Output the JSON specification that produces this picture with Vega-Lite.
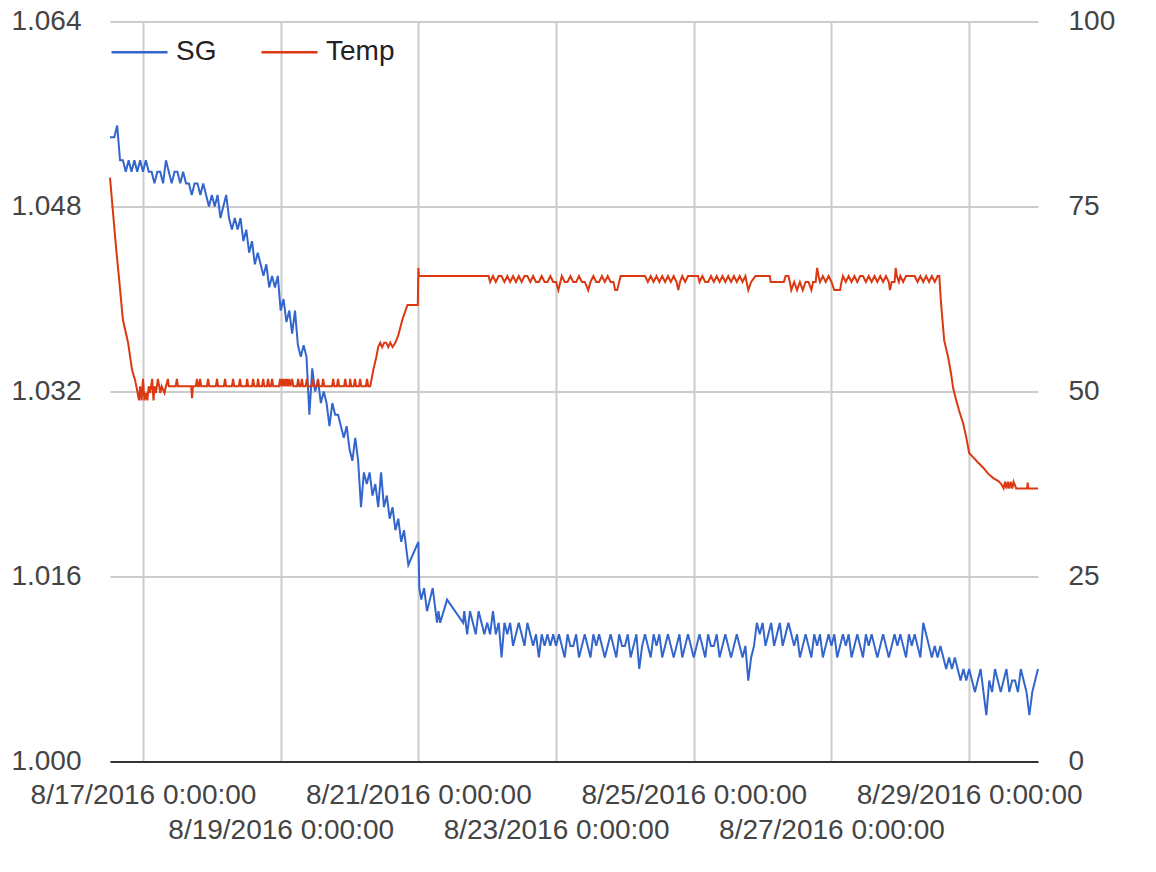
{
  "$schema": "https://vega.github.io/schema/vega-lite/v6.json",
  "width": 928,
  "height": 740,
  "autosize": {"type": "none"},
  "padding": {"left": 110, "top": 21.5, "right": 118, "bottom": 110.5},
  "background": "white",
  "config": {
    "view": {"stroke": null},
    "font": "Liberation Sans",
    "axis": {"labelFont": "Liberation Sans", "labelFontSize": 28, "labelColor": "#444", "ticks": false, "title": null, "labelLimit": 0},
    "legend": {"labelFont": "Liberation Sans", "labelLimit": 0}
  },
  "datasets": {
    "sg": [
      {"t":"2016-08-16T12:30","v":1.054},{"t":"2016-08-16T13:00","v":1.054},{"t":"2016-08-16T14:00","v":1.054},{"t":"2016-08-16T15:00","v":1.055},{"t":"2016-08-16T16:00","v":1.052},{"t":"2016-08-16T17:00","v":1.052},{"t":"2016-08-16T18:00","v":1.051},{"t":"2016-08-16T19:00","v":1.052},{"t":"2016-08-16T20:00","v":1.051},{"t":"2016-08-16T21:00","v":1.052},{"t":"2016-08-16T22:00","v":1.051},{"t":"2016-08-16T23:00","v":1.052},
      {"t":"2016-08-17T00:00","v":1.051},{"t":"2016-08-17T01:00","v":1.052},{"t":"2016-08-17T02:00","v":1.051},{"t":"2016-08-17T03:00","v":1.051},{"t":"2016-08-17T04:00","v":1.050},{"t":"2016-08-17T05:00","v":1.051},{"t":"2016-08-17T06:00","v":1.051},{"t":"2016-08-17T07:00","v":1.050},{"t":"2016-08-17T08:00","v":1.052},{"t":"2016-08-17T09:00","v":1.051},{"t":"2016-08-17T10:00","v":1.050},{"t":"2016-08-17T11:00","v":1.051},{"t":"2016-08-17T12:00","v":1.051},{"t":"2016-08-17T13:00","v":1.050},{"t":"2016-08-17T14:00","v":1.051},{"t":"2016-08-17T15:00","v":1.050},{"t":"2016-08-17T16:00","v":1.050},{"t":"2016-08-17T17:00","v":1.049},{"t":"2016-08-17T18:00","v":1.050},{"t":"2016-08-17T19:00","v":1.050},{"t":"2016-08-17T20:00","v":1.049},{"t":"2016-08-17T21:00","v":1.050},{"t":"2016-08-17T22:00","v":1.049},{"t":"2016-08-17T23:00","v":1.048},
      {"t":"2016-08-18T00:00","v":1.049},{"t":"2016-08-18T01:00","v":1.048},{"t":"2016-08-18T02:00","v":1.049},{"t":"2016-08-18T03:00","v":1.047},{"t":"2016-08-18T04:00","v":1.048},{"t":"2016-08-18T05:00","v":1.049},{"t":"2016-08-18T06:00","v":1.047},{"t":"2016-08-18T07:00","v":1.046},{"t":"2016-08-18T08:00","v":1.047},{"t":"2016-08-18T09:00","v":1.046},{"t":"2016-08-18T10:00","v":1.047},{"t":"2016-08-18T11:00","v":1.045},{"t":"2016-08-18T12:00","v":1.046},{"t":"2016-08-18T13:00","v":1.044},{"t":"2016-08-18T14:00","v":1.045},{"t":"2016-08-18T15:00","v":1.043},{"t":"2016-08-18T16:00","v":1.044},{"t":"2016-08-18T17:00","v":1.043},{"t":"2016-08-18T18:00","v":1.042},{"t":"2016-08-18T19:00","v":1.043},{"t":"2016-08-18T20:00","v":1.041},{"t":"2016-08-18T21:00","v":1.042},{"t":"2016-08-18T22:00","v":1.041},{"t":"2016-08-18T23:00","v":1.042},
      {"t":"2016-08-19T00:00","v":1.039},{"t":"2016-08-19T01:00","v":1.040},{"t":"2016-08-19T02:00","v":1.038},{"t":"2016-08-19T03:00","v":1.039},{"t":"2016-08-19T04:00","v":1.037},{"t":"2016-08-19T05:00","v":1.039},{"t":"2016-08-19T06:00","v":1.036},{"t":"2016-08-19T07:00","v":1.035},{"t":"2016-08-19T08:00","v":1.036},{"t":"2016-08-19T09:00","v":1.035},{"t":"2016-08-19T10:00","v":1.030},{"t":"2016-08-19T11:00","v":1.034},{"t":"2016-08-19T12:00","v":1.032},{"t":"2016-08-19T13:00","v":1.033},{"t":"2016-08-19T14:00","v":1.031},{"t":"2016-08-19T15:00","v":1.032},{"t":"2016-08-19T16:00","v":1.031},{"t":"2016-08-19T17:00","v":1.029},{"t":"2016-08-19T18:00","v":1.031},{"t":"2016-08-19T19:00","v":1.030},{"t":"2016-08-19T20:00","v":1.030},{"t":"2016-08-19T21:00","v":1.029},{"t":"2016-08-19T22:00","v":1.028},{"t":"2016-08-19T23:00","v":1.029},
      {"t":"2016-08-20T00:00","v":1.027},{"t":"2016-08-20T01:00","v":1.026},{"t":"2016-08-20T02:00","v":1.028},{"t":"2016-08-20T03:00","v":1.026},{"t":"2016-08-20T04:00","v":1.022},{"t":"2016-08-20T05:00","v":1.025},{"t":"2016-08-20T06:00","v":1.024},{"t":"2016-08-20T07:00","v":1.025},{"t":"2016-08-20T08:00","v":1.023},{"t":"2016-08-20T09:00","v":1.024},{"t":"2016-08-20T10:00","v":1.022},{"t":"2016-08-20T11:00","v":1.025},{"t":"2016-08-20T12:00","v":1.022},{"t":"2016-08-20T13:00","v":1.023},{"t":"2016-08-20T14:00","v":1.021},{"t":"2016-08-20T15:00","v":1.022},{"t":"2016-08-20T16:00","v":1.020},{"t":"2016-08-20T17:00","v":1.021},{"t":"2016-08-20T18:00","v":1.019},{"t":"2016-08-20T19:00","v":1.020},{"t":"2016-08-20T20:00","v":1.018},{"t":"2016-08-20T20:30","v":1.017},
      {"t":"2016-08-21T00:00","v":1.019},{"t":"2016-08-21T00:20","v":1.015},{"t":"2016-08-21T01:00","v":1.014},{"t":"2016-08-21T02:00","v":1.015},{"t":"2016-08-21T03:00","v":1.013},{"t":"2016-08-21T04:00","v":1.014},{"t":"2016-08-21T05:00","v":1.015},{"t":"2016-08-21T06:00","v":1.013},{"t":"2016-08-21T06:30","v":1.012},{"t":"2016-08-21T07:00","v":1.013},{"t":"2016-08-21T07:36","v":1.012},{"t":"2016-08-21T10:00","v":1.014},{"t":"2016-08-21T15:36","v":1.012},{"t":"2016-08-21T16:00","v":1.013},{"t":"2016-08-21T17:00","v":1.011},{"t":"2016-08-21T18:00","v":1.013},{"t":"2016-08-21T19:00","v":1.012},{"t":"2016-08-21T20:00","v":1.011},{"t":"2016-08-21T21:00","v":1.013},{"t":"2016-08-21T22:00","v":1.012},{"t":"2016-08-21T23:00","v":1.011},
      {"t":"2016-08-22T00:00","v":1.012},{"t":"2016-08-22T01:00","v":1.011},{"t":"2016-08-22T02:00","v":1.013},{"t":"2016-08-22T03:00","v":1.011},{"t":"2016-08-22T04:00","v":1.012},{"t":"2016-08-22T05:00","v":1.009},{"t":"2016-08-22T06:00","v":1.012},{"t":"2016-08-22T07:00","v":1.011},{"t":"2016-08-22T08:00","v":1.012},{"t":"2016-08-22T09:00","v":1.010},{"t":"2016-08-22T10:00","v":1.011},{"t":"2016-08-22T11:00","v":1.012},{"t":"2016-08-22T12:00","v":1.011},{"t":"2016-08-22T13:00","v":1.010},{"t":"2016-08-22T14:00","v":1.012},{"t":"2016-08-22T15:00","v":1.011},{"t":"2016-08-22T16:00","v":1.010},{"t":"2016-08-22T17:00","v":1.011},{"t":"2016-08-22T18:00","v":1.009},{"t":"2016-08-22T19:00","v":1.011},{"t":"2016-08-22T20:00","v":1.010},{"t":"2016-08-22T21:00","v":1.011},{"t":"2016-08-22T22:00","v":1.010},{"t":"2016-08-22T23:00","v":1.011},
      {"t":"2016-08-23T00:00","v":1.010},{"t":"2016-08-23T01:00","v":1.011},{"t":"2016-08-23T02:00","v":1.010},{"t":"2016-08-23T03:00","v":1.009},{"t":"2016-08-23T04:00","v":1.011},{"t":"2016-08-23T05:00","v":1.010},{"t":"2016-08-23T06:00","v":1.010},{"t":"2016-08-23T07:00","v":1.011},{"t":"2016-08-23T08:00","v":1.009},{"t":"2016-08-23T09:00","v":1.010},{"t":"2016-08-23T10:00","v":1.011},{"t":"2016-08-23T11:00","v":1.010},{"t":"2016-08-23T12:00","v":1.009},{"t":"2016-08-23T13:00","v":1.011},{"t":"2016-08-23T14:00","v":1.010},{"t":"2016-08-23T15:00","v":1.011},{"t":"2016-08-23T16:00","v":1.010},{"t":"2016-08-23T17:00","v":1.009},{"t":"2016-08-23T18:00","v":1.010},{"t":"2016-08-23T19:00","v":1.011},{"t":"2016-08-23T20:00","v":1.010},{"t":"2016-08-23T21:00","v":1.009},{"t":"2016-08-23T22:00","v":1.011},{"t":"2016-08-23T23:00","v":1.010},
      {"t":"2016-08-24T00:00","v":1.010},{"t":"2016-08-24T01:00","v":1.011},{"t":"2016-08-24T02:00","v":1.009},{"t":"2016-08-24T03:00","v":1.010},{"t":"2016-08-24T04:00","v":1.011},{"t":"2016-08-24T05:00","v":1.008},{"t":"2016-08-24T06:00","v":1.010},{"t":"2016-08-24T07:00","v":1.011},{"t":"2016-08-24T08:00","v":1.010},{"t":"2016-08-24T09:00","v":1.009},{"t":"2016-08-24T10:00","v":1.011},{"t":"2016-08-24T11:00","v":1.010},{"t":"2016-08-24T12:00","v":1.011},{"t":"2016-08-24T13:00","v":1.009},{"t":"2016-08-24T14:00","v":1.010},{"t":"2016-08-24T15:00","v":1.011},{"t":"2016-08-24T16:00","v":1.010},{"t":"2016-08-24T17:00","v":1.009},{"t":"2016-08-24T18:00","v":1.010},{"t":"2016-08-24T19:00","v":1.011},{"t":"2016-08-24T20:00","v":1.009},{"t":"2016-08-24T21:00","v":1.010},{"t":"2016-08-24T22:00","v":1.011},{"t":"2016-08-24T23:00","v":1.010},
      {"t":"2016-08-25T00:00","v":1.009},{"t":"2016-08-25T01:00","v":1.010},{"t":"2016-08-25T02:00","v":1.011},{"t":"2016-08-25T03:00","v":1.010},{"t":"2016-08-25T04:00","v":1.009},{"t":"2016-08-25T05:00","v":1.011},{"t":"2016-08-25T06:00","v":1.010},{"t":"2016-08-25T07:00","v":1.010},{"t":"2016-08-25T08:00","v":1.011},{"t":"2016-08-25T09:00","v":1.009},{"t":"2016-08-25T10:00","v":1.010},{"t":"2016-08-25T11:00","v":1.011},{"t":"2016-08-25T12:00","v":1.010},{"t":"2016-08-25T13:00","v":1.009},{"t":"2016-08-25T14:00","v":1.010},{"t":"2016-08-25T15:00","v":1.011},{"t":"2016-08-25T16:00","v":1.010},{"t":"2016-08-25T17:00","v":1.009},{"t":"2016-08-25T18:00","v":1.010},{"t":"2016-08-25T19:00","v":1.007},{"t":"2016-08-25T20:00","v":1.009},{"t":"2016-08-25T21:00","v":1.010},{"t":"2016-08-25T22:00","v":1.012},{"t":"2016-08-25T23:00","v":1.011},
      {"t":"2016-08-26T00:00","v":1.012},{"t":"2016-08-26T01:00","v":1.010},{"t":"2016-08-26T02:00","v":1.011},{"t":"2016-08-26T03:00","v":1.012},{"t":"2016-08-26T04:00","v":1.010},{"t":"2016-08-26T05:00","v":1.011},{"t":"2016-08-26T06:00","v":1.012},{"t":"2016-08-26T07:00","v":1.010},{"t":"2016-08-26T08:00","v":1.011},{"t":"2016-08-26T09:00","v":1.012},{"t":"2016-08-26T10:00","v":1.011},{"t":"2016-08-26T11:00","v":1.010},{"t":"2016-08-26T12:00","v":1.011},{"t":"2016-08-26T13:00","v":1.009},{"t":"2016-08-26T14:00","v":1.010},{"t":"2016-08-26T15:00","v":1.011},{"t":"2016-08-26T16:00","v":1.010},{"t":"2016-08-26T17:00","v":1.009},{"t":"2016-08-26T18:00","v":1.011},{"t":"2016-08-26T19:00","v":1.010},{"t":"2016-08-26T20:00","v":1.011},{"t":"2016-08-26T21:00","v":1.009},{"t":"2016-08-26T22:00","v":1.010},{"t":"2016-08-26T23:00","v":1.011},
      {"t":"2016-08-27T00:00","v":1.010},{"t":"2016-08-27T01:00","v":1.011},{"t":"2016-08-27T02:00","v":1.009},{"t":"2016-08-27T03:00","v":1.010},{"t":"2016-08-27T04:00","v":1.011},{"t":"2016-08-27T05:00","v":1.010},{"t":"2016-08-27T06:00","v":1.011},{"t":"2016-08-27T07:00","v":1.009},{"t":"2016-08-27T08:00","v":1.010},{"t":"2016-08-27T09:00","v":1.011},{"t":"2016-08-27T10:00","v":1.010},{"t":"2016-08-27T11:00","v":1.009},{"t":"2016-08-27T12:00","v":1.011},{"t":"2016-08-27T13:00","v":1.010},{"t":"2016-08-27T14:00","v":1.011},{"t":"2016-08-27T15:00","v":1.010},{"t":"2016-08-27T16:00","v":1.009},{"t":"2016-08-27T17:00","v":1.010},{"t":"2016-08-27T18:00","v":1.011},{"t":"2016-08-27T19:00","v":1.010},{"t":"2016-08-27T20:00","v":1.009},{"t":"2016-08-27T21:00","v":1.010},{"t":"2016-08-27T22:00","v":1.011},{"t":"2016-08-27T23:00","v":1.010},
      {"t":"2016-08-28T00:00","v":1.011},{"t":"2016-08-28T01:00","v":1.010},{"t":"2016-08-28T02:00","v":1.009},{"t":"2016-08-28T03:00","v":1.011},{"t":"2016-08-28T04:00","v":1.010},{"t":"2016-08-28T05:00","v":1.011},{"t":"2016-08-28T06:00","v":1.010},{"t":"2016-08-28T07:00","v":1.009},{"t":"2016-08-28T08:00","v":1.012},{"t":"2016-08-28T09:00","v":1.011},{"t":"2016-08-28T10:00","v":1.010},{"t":"2016-08-28T11:00","v":1.009},{"t":"2016-08-28T12:00","v":1.010},{"t":"2016-08-28T13:00","v":1.009},{"t":"2016-08-28T14:00","v":1.010},{"t":"2016-08-28T15:00","v":1.009},{"t":"2016-08-28T16:00","v":1.008},{"t":"2016-08-28T17:00","v":1.009},{"t":"2016-08-28T18:00","v":1.008},{"t":"2016-08-28T19:00","v":1.009},{"t":"2016-08-28T20:00","v":1.008},{"t":"2016-08-28T21:00","v":1.007},{"t":"2016-08-28T22:00","v":1.008},{"t":"2016-08-28T23:00","v":1.007},
      {"t":"2016-08-29T00:00","v":1.008},{"t":"2016-08-29T01:00","v":1.007},{"t":"2016-08-29T02:00","v":1.006},{"t":"2016-08-29T03:00","v":1.007},{"t":"2016-08-29T04:00","v":1.008},{"t":"2016-08-29T05:00","v":1.006},{"t":"2016-08-29T06:00","v":1.004},{"t":"2016-08-29T07:00","v":1.007},{"t":"2016-08-29T08:00","v":1.006},{"t":"2016-08-29T09:00","v":1.008},{"t":"2016-08-29T10:00","v":1.007},{"t":"2016-08-29T11:00","v":1.006},{"t":"2016-08-29T12:00","v":1.007},{"t":"2016-08-29T13:00","v":1.008},{"t":"2016-08-29T14:00","v":1.006},{"t":"2016-08-29T15:00","v":1.007},{"t":"2016-08-29T16:00","v":1.007},{"t":"2016-08-29T17:00","v":1.006},{"t":"2016-08-29T18:00","v":1.008},{"t":"2016-08-29T19:00","v":1.007},{"t":"2016-08-29T20:00","v":1.006},{"t":"2016-08-29T21:00","v":1.004},{"t":"2016-08-29T22:00","v":1.006},{"t":"2016-08-29T23:00","v":1.007},
      {"t":"2016-08-30T00:00","v":1.008}
    ],
    "temp": [
      {"t":"2016-08-16T12:30","v":78.9},{"t":"2016-08-16T14:36","v":69.5},{"t":"2016-08-16T15:36","v":65.5},{"t":"2016-08-16T17:00","v":59.7},{"t":"2016-08-16T18:48","v":56.6},{"t":"2016-08-16T20:12","v":52.9},{"t":"2016-08-16T21:12","v":51.6},{"t":"2016-08-16T21:54","v":50.3},{"t":"2016-08-16T22:36","v":48.8},{"t":"2016-08-16T23:00","v":50.7},{"t":"2016-08-16T23:30","v":48.8},
      {"t":"2016-08-17T00:00","v":51.7},{"t":"2016-08-17T00:30","v":48.8},{"t":"2016-08-17T01:00","v":49.8},{"t":"2016-08-17T01:30","v":48.8},{"t":"2016-08-17T02:00","v":50.7},{"t":"2016-08-17T02:30","v":49.8},{"t":"2016-08-17T03:12","v":51.7},{"t":"2016-08-17T03:40","v":48.8},{"t":"2016-08-17T04:00","v":50.7},{"t":"2016-08-17T04:30","v":49.8},{"t":"2016-08-17T05:12","v":51.7},{"t":"2016-08-17T05:40","v":50.7},{"t":"2016-08-17T06:00","v":49.8},{"t":"2016-08-17T06:30","v":50.7},{"t":"2016-08-17T07:30","v":49.8},{"t":"2016-08-17T08:00","v":50.7},{"t":"2016-08-17T08:42","v":51.7},{"t":"2016-08-17T09:00","v":50.7},{"t":"2016-08-17T11:24","v":50.7},{"t":"2016-08-17T11:48","v":51.7},{"t":"2016-08-17T12:12","v":50.7},{"t":"2016-08-17T16:48","v":50.7},{"t":"2016-08-17T17:06","v":49.1},{"t":"2016-08-17T17:24","v":50.7},{"t":"2016-08-17T18:24","v":50.7},{"t":"2016-08-17T18:48","v":51.7},{"t":"2016-08-17T19:12","v":50.7},{"t":"2016-08-17T19:30","v":50.7},{"t":"2016-08-17T19:54","v":51.7},{"t":"2016-08-17T20:18","v":50.7},{"t":"2016-08-17T22:18","v":50.7},{"t":"2016-08-17T22:42","v":51.7},{"t":"2016-08-17T23:06","v":50.7},
      {"t":"2016-08-18T01:24","v":50.7},{"t":"2016-08-18T01:48","v":51.7},{"t":"2016-08-18T02:12","v":50.7},{"t":"2016-08-18T04:12","v":50.7},{"t":"2016-08-18T04:36","v":51.7},{"t":"2016-08-18T05:00","v":50.7},{"t":"2016-08-18T07:00","v":50.7},{"t":"2016-08-18T07:24","v":51.7},{"t":"2016-08-18T07:48","v":50.7},{"t":"2016-08-18T09:24","v":50.7},{"t":"2016-08-18T09:48","v":51.7},{"t":"2016-08-18T10:12","v":50.7},{"t":"2016-08-18T12:00","v":50.7},{"t":"2016-08-18T12:18","v":51.7},{"t":"2016-08-18T12:42","v":50.7},{"t":"2016-08-18T14:00","v":50.7},{"t":"2016-08-18T14:24","v":51.7},{"t":"2016-08-18T14:48","v":50.7},{"t":"2016-08-18T15:48","v":50.7},{"t":"2016-08-18T16:06","v":51.7},{"t":"2016-08-18T16:30","v":50.7},{"t":"2016-08-18T17:30","v":50.7},{"t":"2016-08-18T17:54","v":51.7},{"t":"2016-08-18T18:18","v":50.7},{"t":"2016-08-18T19:12","v":50.7},{"t":"2016-08-18T19:36","v":51.7},{"t":"2016-08-18T20:00","v":50.7},{"t":"2016-08-18T20:36","v":50.7},{"t":"2016-08-18T21:00","v":51.7},{"t":"2016-08-18T21:24","v":50.7},{"t":"2016-08-18T23:24","v":50.7},{"t":"2016-08-18T23:48","v":51.7},
      {"t":"2016-08-19T00:12","v":50.7},{"t":"2016-08-19T00:36","v":51.7},{"t":"2016-08-19T01:00","v":50.7},{"t":"2016-08-19T01:24","v":51.7},{"t":"2016-08-19T01:48","v":50.7},{"t":"2016-08-19T02:12","v":51.7},{"t":"2016-08-19T02:36","v":50.7},{"t":"2016-08-19T03:00","v":51.7},{"t":"2016-08-19T03:24","v":50.7},{"t":"2016-08-19T04:00","v":51.7},{"t":"2016-08-19T04:24","v":50.7},{"t":"2016-08-19T05:42","v":50.7},{"t":"2016-08-19T06:06","v":51.7},{"t":"2016-08-19T06:30","v":50.7},{"t":"2016-08-19T07:00","v":50.7},{"t":"2016-08-19T07:24","v":51.7},{"t":"2016-08-19T07:48","v":50.7},{"t":"2016-08-19T08:42","v":50.7},{"t":"2016-08-19T09:06","v":51.7},{"t":"2016-08-19T09:30","v":50.7},{"t":"2016-08-19T10:48","v":50.7},{"t":"2016-08-19T11:12","v":51.7},{"t":"2016-08-19T11:36","v":50.7},{"t":"2016-08-19T12:36","v":50.7},{"t":"2016-08-19T13:00","v":51.7},{"t":"2016-08-19T13:24","v":50.7},{"t":"2016-08-19T14:24","v":50.7},{"t":"2016-08-19T14:48","v":51.7},{"t":"2016-08-19T15:12","v":50.7},{"t":"2016-08-19T17:54","v":50.7},{"t":"2016-08-19T18:18","v":51.7},{"t":"2016-08-19T18:42","v":50.7},{"t":"2016-08-19T19:36","v":50.7},{"t":"2016-08-19T20:00","v":51.7},{"t":"2016-08-19T20:24","v":50.7},{"t":"2016-08-19T22:06","v":50.7},{"t":"2016-08-19T22:30","v":51.7},{"t":"2016-08-19T22:54","v":50.7},
      {"t":"2016-08-20T00:00","v":50.7},{"t":"2016-08-20T00:12","v":51.7},{"t":"2016-08-20T00:36","v":50.7},{"t":"2016-08-20T01:30","v":50.7},{"t":"2016-08-20T01:54","v":51.7},{"t":"2016-08-20T02:18","v":50.7},{"t":"2016-08-20T03:18","v":50.7},{"t":"2016-08-20T03:42","v":51.7},{"t":"2016-08-20T04:06","v":50.7},{"t":"2016-08-20T05:42","v":50.7},{"t":"2016-08-20T06:06","v":51.7},{"t":"2016-08-20T06:30","v":50.7},{"t":"2016-08-20T07:12","v":50.7},{"t":"2016-08-20T08:18","v":52.9},{"t":"2016-08-20T09:18","v":54.6},{"t":"2016-08-20T10:00","v":56.0},{"t":"2016-08-20T10:42","v":56.6},{"t":"2016-08-20T11:24","v":56.0},{"t":"2016-08-20T12:06","v":56.6},{"t":"2016-08-20T12:48","v":56.6},{"t":"2016-08-20T13:30","v":56.0},{"t":"2016-08-20T14:12","v":56.6},{"t":"2016-08-20T15:00","v":56.0},{"t":"2016-08-20T16:00","v":56.6},{"t":"2016-08-20T17:00","v":57.6},{"t":"2016-08-20T18:24","v":59.7},{"t":"2016-08-20T20:12","v":61.7},{"t":"2016-08-20T23:48","v":61.7},
      {"t":"2016-08-21T00:00","v":66.7},{"t":"2016-08-21T00:10","v":65.6},
      {"t":"2016-08-22T00:30","v":65.6},{"t":"2016-08-22T01:00","v":64.8},{"t":"2016-08-22T02:00","v":65.6},{"t":"2016-08-22T03:00","v":64.8},{"t":"2016-08-22T04:00","v":65.6},{"t":"2016-08-22T05:00","v":65.6},{"t":"2016-08-22T06:00","v":64.8},{"t":"2016-08-22T07:00","v":65.6},{"t":"2016-08-22T08:00","v":64.8},{"t":"2016-08-22T09:00","v":65.6},{"t":"2016-08-22T10:00","v":64.8},{"t":"2016-08-22T11:00","v":65.6},{"t":"2016-08-22T12:00","v":64.8},{"t":"2016-08-22T13:00","v":65.6},{"t":"2016-08-22T14:00","v":65.6},{"t":"2016-08-22T15:00","v":64.8},{"t":"2016-08-22T16:00","v":65.6},{"t":"2016-08-22T17:00","v":64.8},{"t":"2016-08-22T18:00","v":64.8},{"t":"2016-08-22T19:00","v":65.6},{"t":"2016-08-22T20:00","v":64.8},{"t":"2016-08-22T21:00","v":64.8},{"t":"2016-08-22T22:00","v":65.6},{"t":"2016-08-22T23:00","v":64.8},
      {"t":"2016-08-23T00:00","v":64.8},{"t":"2016-08-23T00:48","v":63.7},{"t":"2016-08-23T01:30","v":64.8},{"t":"2016-08-23T02:00","v":65.6},{"t":"2016-08-23T03:00","v":64.8},{"t":"2016-08-23T04:00","v":64.8},{"t":"2016-08-23T05:00","v":65.6},{"t":"2016-08-23T06:00","v":64.8},{"t":"2016-08-23T07:00","v":64.8},{"t":"2016-08-23T08:00","v":65.6},{"t":"2016-08-23T09:00","v":64.8},{"t":"2016-08-23T10:00","v":64.8},{"t":"2016-08-23T11:12","v":63.7},{"t":"2016-08-23T12:00","v":64.8},{"t":"2016-08-23T13:00","v":65.6},{"t":"2016-08-23T14:00","v":64.8},{"t":"2016-08-23T15:00","v":64.8},{"t":"2016-08-23T16:00","v":65.6},{"t":"2016-08-23T17:00","v":64.8},{"t":"2016-08-23T18:00","v":65.6},{"t":"2016-08-23T19:00","v":64.8},{"t":"2016-08-23T20:00","v":64.8},{"t":"2016-08-23T20:36","v":63.7},{"t":"2016-08-23T21:18","v":63.7},{"t":"2016-08-23T22:00","v":64.8},{"t":"2016-08-23T22:30","v":65.6},
      {"t":"2016-08-24T07:00","v":65.6},{"t":"2016-08-24T08:00","v":64.8},{"t":"2016-08-24T09:00","v":65.6},{"t":"2016-08-24T10:00","v":64.8},{"t":"2016-08-24T11:00","v":65.6},{"t":"2016-08-24T12:00","v":64.8},{"t":"2016-08-24T13:00","v":65.6},{"t":"2016-08-24T14:00","v":64.8},{"t":"2016-08-24T15:00","v":65.6},{"t":"2016-08-24T16:00","v":64.8},{"t":"2016-08-24T17:00","v":65.6},{"t":"2016-08-24T18:00","v":64.8},{"t":"2016-08-24T18:36","v":63.7},{"t":"2016-08-24T19:12","v":64.8},{"t":"2016-08-24T20:00","v":65.6},{"t":"2016-08-24T21:00","v":64.8},{"t":"2016-08-24T22:00","v":65.6},
      {"t":"2016-08-25T01:30","v":65.6},{"t":"2016-08-25T02:00","v":64.8},{"t":"2016-08-25T03:00","v":65.6},{"t":"2016-08-25T04:00","v":64.8},{"t":"2016-08-25T05:00","v":64.8},{"t":"2016-08-25T06:00","v":65.6},{"t":"2016-08-25T07:00","v":64.8},{"t":"2016-08-25T08:00","v":65.6},{"t":"2016-08-25T09:00","v":64.8},{"t":"2016-08-25T10:00","v":65.6},{"t":"2016-08-25T11:00","v":64.8},{"t":"2016-08-25T12:00","v":65.6},{"t":"2016-08-25T13:00","v":64.8},{"t":"2016-08-25T14:00","v":65.6},{"t":"2016-08-25T15:00","v":64.8},{"t":"2016-08-25T16:00","v":65.6},{"t":"2016-08-25T17:00","v":64.8},{"t":"2016-08-25T18:00","v":65.6},{"t":"2016-08-25T19:00","v":63.7},{"t":"2016-08-25T20:00","v":64.8},{"t":"2016-08-25T21:30","v":65.6},
      {"t":"2016-08-26T02:30","v":65.6},{"t":"2016-08-26T02:50","v":64.8},{"t":"2016-08-26T07:24","v":64.8},{"t":"2016-08-26T08:00","v":65.6},{"t":"2016-08-26T09:00","v":65.6},{"t":"2016-08-26T09:30","v":64.8},{"t":"2016-08-26T10:00","v":63.7},{"t":"2016-08-26T11:00","v":64.8},{"t":"2016-08-26T12:00","v":63.7},{"t":"2016-08-26T13:00","v":64.8},{"t":"2016-08-26T14:00","v":63.7},{"t":"2016-08-26T15:00","v":64.8},{"t":"2016-08-26T16:00","v":64.8},{"t":"2016-08-26T17:00","v":63.7},{"t":"2016-08-26T17:36","v":64.8},{"t":"2016-08-26T18:30","v":64.8},{"t":"2016-08-26T19:00","v":66.7},{"t":"2016-08-26T19:30","v":65.6},{"t":"2016-08-26T20:00","v":64.8},{"t":"2016-08-26T21:00","v":65.6},{"t":"2016-08-26T22:00","v":64.8},{"t":"2016-08-26T23:00","v":65.6},
      {"t":"2016-08-27T00:00","v":64.8},{"t":"2016-08-27T01:00","v":63.7},{"t":"2016-08-27T03:00","v":63.7},{"t":"2016-08-27T03:30","v":64.8},{"t":"2016-08-27T04:00","v":65.6},{"t":"2016-08-27T05:00","v":64.8},{"t":"2016-08-27T06:00","v":65.6},{"t":"2016-08-27T07:00","v":64.8},{"t":"2016-08-27T08:00","v":65.6},{"t":"2016-08-27T09:00","v":64.8},{"t":"2016-08-27T10:00","v":65.6},{"t":"2016-08-27T11:00","v":65.6},{"t":"2016-08-27T12:00","v":64.8},{"t":"2016-08-27T13:00","v":65.6},{"t":"2016-08-27T14:00","v":64.8},{"t":"2016-08-27T15:00","v":65.6},{"t":"2016-08-27T16:00","v":64.8},{"t":"2016-08-27T17:00","v":65.6},{"t":"2016-08-27T18:00","v":64.8},{"t":"2016-08-27T19:00","v":65.6},{"t":"2016-08-27T20:00","v":64.8},{"t":"2016-08-27T20:24","v":63.7},{"t":"2016-08-27T21:00","v":64.8},{"t":"2016-08-27T22:00","v":64.8},{"t":"2016-08-27T22:24","v":66.7},{"t":"2016-08-27T22:48","v":65.6},{"t":"2016-08-27T23:30","v":64.8},
      {"t":"2016-08-28T00:00","v":65.6},{"t":"2016-08-28T01:00","v":64.8},{"t":"2016-08-28T02:00","v":65.6},{"t":"2016-08-28T05:00","v":65.6},{"t":"2016-08-28T06:00","v":64.8},{"t":"2016-08-28T07:00","v":65.6},{"t":"2016-08-28T08:00","v":64.8},{"t":"2016-08-28T09:00","v":65.6},{"t":"2016-08-28T10:00","v":64.8},{"t":"2016-08-28T11:00","v":65.6},{"t":"2016-08-28T12:00","v":64.8},{"t":"2016-08-28T13:00","v":65.6},{"t":"2016-08-28T13:36","v":65.6},{"t":"2016-08-28T14:12","v":61.9},{"t":"2016-08-28T15:18","v":56.9},{"t":"2016-08-28T16:42","v":54.6},{"t":"2016-08-28T17:42","v":52.4},{"t":"2016-08-28T18:24","v":50.5},{"t":"2016-08-28T19:30","v":48.8},{"t":"2016-08-28T20:30","v":47.4},{"t":"2016-08-28T21:54","v":45.7},{"t":"2016-08-28T23:00","v":43.8},
      {"t":"2016-08-29T00:00","v":41.7},{"t":"2016-08-29T01:24","v":41.1},{"t":"2016-08-29T03:06","v":40.4},{"t":"2016-08-29T04:54","v":39.7},{"t":"2016-08-29T06:36","v":38.9},{"t":"2016-08-29T08:24","v":38.3},{"t":"2016-08-29T10:12","v":37.9},{"t":"2016-08-29T11:12","v":37.5},{"t":"2016-08-29T12:00","v":36.9},{"t":"2016-08-29T12:30","v":37.8},{"t":"2016-08-29T13:00","v":36.9},{"t":"2016-08-29T13:30","v":37.8},{"t":"2016-08-29T14:00","v":36.9},{"t":"2016-08-29T14:30","v":37.8},{"t":"2016-08-29T15:00","v":36.9},{"t":"2016-08-29T15:30","v":37.8},{"t":"2016-08-29T16:24","v":36.9},{"t":"2016-08-29T20:12","v":36.9},{"t":"2016-08-29T20:24","v":37.7},{"t":"2016-08-29T20:36","v":36.9},
      {"t":"2016-08-30T00:00","v":36.9}
    ]
  },
  "layer": [
    {
      "data": {"name": "sg"},
      "mark": {"type": "line", "strokeWidth": 2, "interpolate": "linear"},
      "encoding": {
        "x": {
          "field": "t", "type": "temporal",
          "scale": {"domain": [{"year": 2016, "month": 8, "date": 16, "hours": 12, "minutes": 30}, {"year": 2016, "month": 8, "date": 30}], "nice": false},
          "axis": {
            "values": [{"year": 2016, "month": 8, "date": 17}, {"year": 2016, "month": 8, "date": 19}, {"year": 2016, "month": 8, "date": 21}, {"year": 2016, "month": 8, "date": 23}, {"year": 2016, "month": 8, "date": 25}, {"year": 2016, "month": 8, "date": 27}, {"year": 2016, "month": 8, "date": 29}],
            "format": "%-m/%-d/%Y %-H:%M:%S",
            "labelExpr": "date(datum.value) % 4 == 3 ? ['', datum.label] : datum.label",
            "labelLineHeight": 35,
            "labelPadding": 20,
            "labelLimit": 0,
            "labelOverlap": false,
            "labelBound": false,
            "labelFlush": false,
            "grid": true, "gridColor": "#cccccc", "gridWidth": 2,
            "domain": true, "domainColor": "#333333", "domainWidth": 2
          }
        },
        "y": {
          "field": "v", "type": "quantitative",
          "scale": {"domain": [1.0, 1.064], "nice": false, "zero": false},
          "axis": {
            "orient": "left",
            "values": [1.0, 1.016, 1.032, 1.048, 1.064],
            "format": ".3f",
            "labelPadding": 29,
            "domain": false,
            "grid": true, "gridColor": "#cccccc", "gridWidth": 2
          }
        },
        "color": {
          "datum": "SG", "type": "nominal",
          "scale": {"domain": ["SG", "Temp"], "range": ["#3366cc", "#dc3912"]},
          "legend": {
            "title": null,
            "orient": "none",
            "legendX": 0,
            "legendY": 1,
            "direction": "horizontal",
            "symbolType": "stroke",
            "symbolSize": 3136,
            "symbolStrokeWidth": 2.5,
            "labelFontSize": 28,
            "labelColor": "#222222",
            "labelOffset": 7,
            "columnPadding": 39,
            "padding": 0
          }
        }
      }
    },
    {
      "data": {"name": "temp"},
      "mark": {"type": "line", "strokeWidth": 2, "interpolate": "linear"},
      "encoding": {
        "x": {"field": "t", "type": "temporal"},
        "y": {
          "field": "v", "type": "quantitative",
          "scale": {"domain": [0, 100], "nice": false},
          "axis": {
            "orient": "right",
            "values": [0, 25, 50, 75, 100],
            "labelPadding": 30,
            "domain": false,
            "grid": false
          }
        },
        "color": {"datum": "Temp", "type": "nominal"}
      }
    }
  ],
  "resolve": {"scale": {"y": "independent"}}
}
